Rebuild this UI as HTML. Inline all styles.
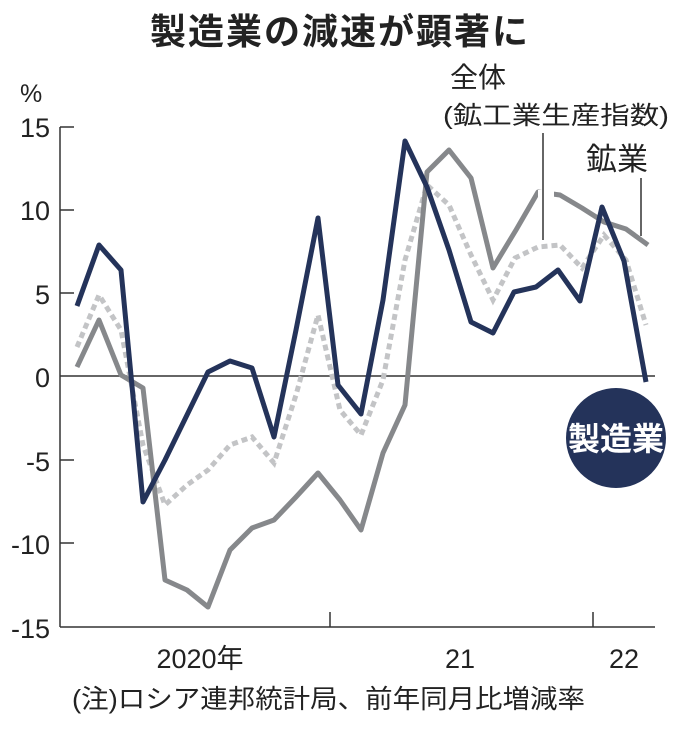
<!DOCTYPE html>
<html><head><meta charset="utf-8"><style>
body{margin:0;background:#fff;}
text{font-family:"Liberation Sans","Noto Sans CJK JP",sans-serif;}
</style></head><body>
<svg width="676" height="724" viewBox="0 0 676 724" xmlns="http://www.w3.org/2000/svg">
<text x="340" y="44" text-anchor="middle" font-size="36" font-weight="bold" fill="#222" letter-spacing="2">製造業の減速が顕著に</text>
<text x="20" y="102" font-size="25" fill="#222">%</text>
<g font-size="27" fill="#222" text-anchor="end">
<text x="50" y="137">15</text><text x="50" y="220">10</text><text x="50" y="304">5</text>
<text x="50" y="387">0</text><text x="50" y="471">-5</text><text x="50" y="554">-10</text><text x="50" y="638">-15</text>
</g>
<g stroke="#333" stroke-width="1.5">
<line x1="60" y1="127" x2="60" y2="627"/>
<line x1="60" y1="627" x2="655" y2="627"/>
<line x1="60" y1="376" x2="655" y2="376"/>
<line x1="60" y1="127" x2="74" y2="127"/><line x1="60" y1="210" x2="74" y2="210"/>
<line x1="60" y1="293" x2="74" y2="293"/><line x1="60" y1="460" x2="74" y2="460"/>
<line x1="60" y1="543" x2="74" y2="543"/>
<line x1="330" y1="627" x2="330" y2="612"/><line x1="593" y1="627" x2="593" y2="612"/>
</g>
<g font-size="27" fill="#222" text-anchor="middle">
<text x="200" y="668">2020年</text><text x="460" y="668">21</text><text x="624" y="668">22</text>
</g>
<text x="72" y="708" font-size="26" fill="#222" textLength="513" lengthAdjust="spacingAndGlyphs">(注)ロシア連邦統計局、前年同月比増減率</text>
<polyline fill="none" stroke="#c3c4c6" stroke-width="5" stroke-dasharray="6,4" points="77,347 99,295 121,330 143,445 165,505 187,485 208,470 230,445 252,437 274,463 296,395 318,315 340,410 361,435 383,380 405,260 427,185 449,205 471,255 493,300 515,258 538,247 560,245 582,268 604,235 626,260 646,325"/>
<polyline fill="none" stroke="#86888b" stroke-width="5" stroke-linejoin="round" points="77,367 99,320 121,375 143,388 165,580 187,590 208,607 230,550 252,528 274,520 296,497 318,473 340,500 361,530 383,453 405,405 427,172 449,150 471,178 493,268 516,230 538,192 560,195 582,208 604,222 626,229 648,245"/>
<polyline fill="none" stroke="#24335a" stroke-width="5" stroke-linejoin="round" points="77,306 99,245 121,270 143,502 165,460 187,415 208,372 230,361 252,368 274,437 296,330 318,218 338,385 361,414 383,300 405,141 427,187 449,250 471,322 493,333 514,292 536,287 558,270 580,301 602,207 624,261 646,382"/>
<rect x="538" y="190" width="16" height="8" fill="#fff"/>
<g stroke="#333" stroke-width="1.5">
<line x1="543" y1="133" x2="543" y2="240"/>
<line x1="641" y1="178" x2="641" y2="236"/>
</g>
<g fill="#222">
<text x="450" y="87" font-size="28">全体</text>
<text x="443" y="124" font-size="25" textLength="226" lengthAdjust="spacingAndGlyphs">(鉱工業生産指数)</text>
<text x="586" y="170" font-size="31">鉱業</text>
</g>
<circle cx="616" cy="438" r="50" fill="#24335a"/>
<text x="616" y="450" text-anchor="middle" font-size="32" font-weight="bold" fill="#fff">製造業</text>
</svg>
</body></html>
